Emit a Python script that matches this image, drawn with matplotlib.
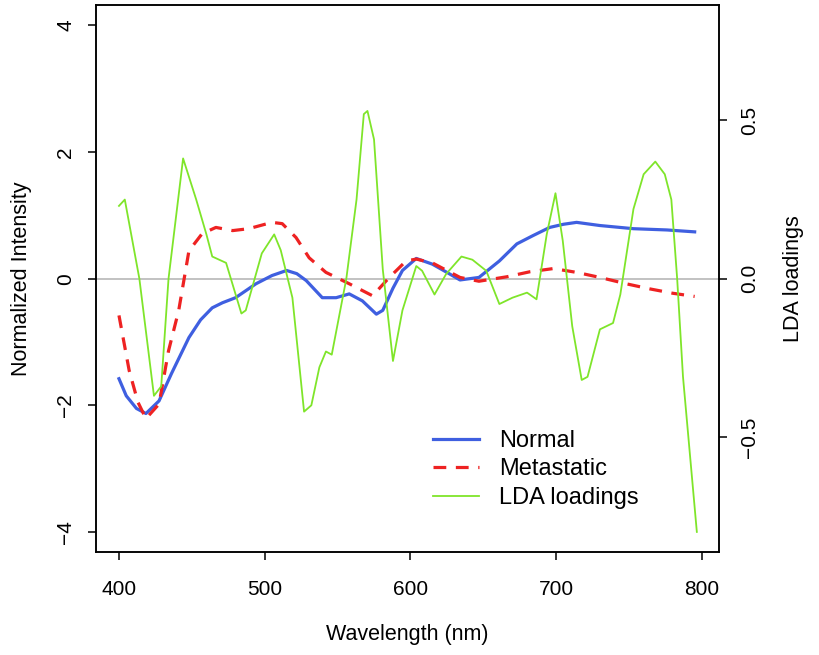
import numpy as np
import matplotlib
matplotlib.use('Agg')
import matplotlib.pyplot as plt

plt.rcParams['font.family'] = ['Liberation Sans', 'DejaVu Sans']

# Normal spectrum (blue)
normal_wl = [400, 405, 412, 418.5, 427.5, 436, 448, 456, 464, 471, 480, 494, 505, 515,
             522, 528.5, 539.5, 549, 558, 567, 576.6, 581, 588, 594.5, 604, 615,
             625, 634, 647, 661, 673, 684, 695.5, 705, 714, 730, 753, 776, 795]
normal_val = [-1.58, -1.85, -2.05, -2.13, -1.93, -1.5, -0.93, -0.65, -0.46, -0.38, -0.3, -0.08,
              0.05, 0.13, 0.08, -0.03, -0.3, -0.3, -0.24, -0.35, -0.56, -0.5, -0.15, 0.13,
              0.32, 0.23, 0.1, -0.02, 0.02, 0.28, 0.55, 0.68, 0.81, 0.86, 0.89, 0.84, 0.79, 0.77, 0.74]

# Metastatic spectrum (red dashed)
meta_wl = [400, 407, 413, 418.5, 427.5, 434, 441, 446, 448, 457, 466.5, 478, 489, 505,
           512, 521.5, 530.5, 542, 558, 574, 585.5, 597, 604, 615, 634, 647, 666,
           682, 698, 714, 730, 748, 764, 780, 795]
meta_val = [-0.58, -1.45, -1.95, -2.21, -1.98, -1.14, -0.5, 0.17, 0.44, 0.71, 0.81, 0.76, 0.79, 0.89,
            0.87, 0.65, 0.33, 0.1, -0.08, -0.27, 0.02, 0.28, 0.31, 0.25, 0.02, -0.04, 0.03,
            0.11, 0.16, 0.1, 0.02, -0.08, -0.16, -0.23, -0.28]

# LDA loadings (green, right axis)
lda_wl = [400, 404, 414, 424, 429, 434, 444, 453, 460, 464, 473.5, 484, 487, 498, 506.5,
          511, 519, 527, 532, 537.5, 542, 546, 556, 563, 568, 570.5, 575, 581, 588,
          594.5, 604, 608, 616.5, 624.5, 635, 642.5, 652, 661, 670, 680, 686.5, 693.5,
          699.5, 704.5, 711, 717.5, 721.5, 730, 739, 744, 753, 760, 768, 774.5, 779,
          783, 787, 796.5]
lda_val = [0.23, 0.25, 0.0, -0.37, -0.34, 0.0, 0.38, 0.25, 0.14, 0.07, 0.05, -0.11, -0.1, 0.08, 0.14,
           0.09, -0.06, -0.42, -0.4, -0.28, -0.23, -0.24, 0.0, 0.25, 0.52, 0.53, 0.44, 0.03, -0.26,
           -0.1, 0.04, 0.025, -0.05, 0.015, 0.07, 0.06, 0.025, -0.08, -0.06, -0.044, -0.065, 0.14,
           0.27, 0.12, -0.15, -0.32, -0.31, -0.16, -0.14, -0.05, 0.22, 0.33, 0.37, 0.33, 0.25,
           0.0, -0.31, -0.8]

blue = '#3f5fe0'
red = '#ee2222'
green = '#7fe52a'

fig = plt.figure(figsize=(8.2, 6.55), dpi=100)
ax = fig.add_axes([0.117, 0.157, 0.76, 0.835])
ax2 = ax.twinx()

ax.axhline(0, color='#b8b8b8', lw=1.2, zorder=0)
l1, = ax.plot(normal_wl, normal_val, color=blue, lw=2.3, label='Normal')
l2, = ax.plot(meta_wl, meta_val, color=red, lw=2.3, ls=(0, (4, 3)), label='Metastatic')
l3, = ax2.plot(lda_wl, lda_val, color=green, lw=1.3, label='LDA loadings')

ax.set_xlim(384.2, 811.8)
ax.set_ylim(-4.32, 4.32)
ax2.set_ylim(-0.864, 0.864)
ax.set_xticks([400, 500, 600, 700, 800])
ax.set_yticks([-4, -2, 0, 2, 4])
ax2.set_yticks([-0.5, 0.0, 0.5])
ax2.set_yticklabels(['\u22120.5', '0.0', '0.5'])

for a in (ax, ax2):
    a.tick_params(direction='out', length=6, width=1.1, labelsize=15, pad=9)
    for s in a.spines.values():
        s.set_linewidth(1.1)
ax.tick_params(axis='x', pad=14)
ax.tick_params(axis='y', labelrotation=90)
ax2.tick_params(axis='y', labelrotation=90)
for t in ax.get_yticklabels() + ax2.get_yticklabels():
    t.set_va('center')

ax.set_xlabel('Wavelength (nm)', fontsize=15.5, labelpad=18)
ax.set_ylabel('Normalized Intensity', fontsize=15.5, labelpad=17)
ax2.set_ylabel('LDA loadings', fontsize=15.5, labelpad=17)

ax.legend([l1, l2, l3], ['Normal', 'Metastatic', 'LDA loadings'], loc='lower left',
          bbox_to_anchor=(0.506, 0.04), frameon=False, fontsize=17, handlelength=1.95,
          labelspacing=0.28, handletextpad=0.85)

fig.savefig('out.png', dpi=100)
